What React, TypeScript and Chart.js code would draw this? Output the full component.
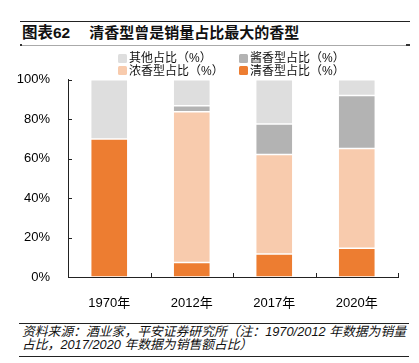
import React, { useEffect, useRef } from "react";
import { Chart, registerables } from "chart.js";

Chart.register(...registerables);

const categories = ["1970年", "2012年", "2017年", "2020年"];
const qingxiang = [70, 7.4, 11.6, 14.6];
const nongxiang = [0, 76.4, 50.5, 50.6];
const jiangxiang = [0, 3.1, 15.5, 26.9];
const others = [30, 13.1, 22.4, 7.9];
const yTicks = [0, 20, 40, 60, 80, 100];

const seriesNames = ["清香型占比（%）", "浓香型占比（%）", "酱香型占比（%）", "其他占比（%）"];
const seriesColors = ["#ED7D31", "#F8CBAD", "#B3B3B3", "#DEDEDE"];
const seriesData = [qingxiang, nongxiang, jiangxiang, others];

const FONT = "'Liberation Sans', Arial, 'Noto Sans CJK SC', sans-serif";

const innerTicks = {
  id: "innerTicks",
  afterDraw(chart: any) {
    const { ctx, chartArea, scales } = chart;
    ctx.save();
    ctx.strokeStyle = "#222";
    ctx.lineWidth = 1;
    ctx.beginPath();
    yTicks.forEach((v) => {
      const y = Math.round(scales.y.getPixelForValue(v)) + 0.5;
      ctx.moveTo(chartArea.left, y);
      ctx.lineTo(chartArea.left + 4, y);
    });
    const n = categories.length;
    for (let i = 1; i <= n; i++) {
      const x = Math.round(chartArea.left + ((chartArea.right - chartArea.left) * i) / n) + 0.5;
      ctx.moveTo(x, chartArea.bottom);
      ctx.lineTo(x, chartArea.bottom - 4);
    }
    ctx.stroke();
    ctx.restore();
  },
};

export default function App() {
  const ref = useRef<HTMLCanvasElement | null>(null);

  useEffect(() => {
    if (!ref.current) return;
    const chart = new Chart(ref.current, {
      type: "bar",
      data: {
        labels: categories,
        datasets: seriesData.map((d, i) => ({
          label: seriesNames[i],
          data: d,
          backgroundColor: seriesColors[i],
          borderColor: "#ffffff",
          borderWidth: 0.75,
          borderSkipped: false,
          categoryPercentage: 1,
          barPercentage: 0.45,
        })),
      },
      options: {
        responsive: false,
        animation: false,
        layout: { padding: { top: 2, right: 21, left: 0, bottom: 0 } },
        plugins: { legend: { display: false }, tooltip: { enabled: false }, title: { display: false } },
        scales: {
          x: {
            stacked: true,
            grid: { display: false },
            border: { display: true, color: "#222", width: 1 },
            ticks: { color: "#000", font: { family: FONT, size: 13 }, padding: 11 },
            afterFit: (s: any) => {
              s.height = 33;
            },
          },
          y: {
            stacked: true,
            min: 0,
            max: 100,
            grid: { display: false },
            border: { display: true, color: "#222", width: 1 },
            ticks: {
              stepSize: 20,
              color: "#000",
              font: { family: FONT, size: 13 },
              padding: 10,
              callback: (v: any) => v + "%",
            },
            afterFit: (s: any) => {
              s.width = 68;
            },
          },
        },
      },
      plugins: [innerTicks],
    });
    return () => chart.destroy();
  }, []);

  const legendOrder = [3, 2, 1, 0];

  return (
    <div
      style={{
        position: "absolute",
        left: 0,
        top: 0,
        width: 419,
        height: 363,
        background: "#fff",
        fontFamily: FONT,
        overflow: "hidden",
      }}
    >
      <div style={{ position: "absolute", left: 20, top: 21, width: 390, height: 0, borderTop: "1.5px solid #222" }} />
      <div
        style={{
          position: "absolute",
          left: 22,
          top: 24,
          fontSize: 15,
          fontWeight: "bold",
          lineHeight: "18px",
          color: "#111",
          whiteSpace: "nowrap",
        }}
      >
        <span style={{ fontSize: 15.5 }}>图表62</span>
        <span style={{ marginLeft: 19 }}>清香型曾是销量占比最大的香型</span>
      </div>
      <div style={{ position: "absolute", left: 20, top: 45, width: 390, height: 0, borderTop: "1px solid #aaa" }} />
      <div style={{ position: "absolute", left: 20, top: 44, width: 2, height: 2, background: "#333" }} />
      <div style={{ position: "absolute", left: 406, top: 44, width: 4, height: 2, background: "#333" }} />

      <canvas
        ref={ref}
        width={419}
        height={248}
        style={{ position: "absolute", left: 0, top: 62, width: 419, height: 248 }}
      />

      {legendOrder.map((si, k) => {
        const col = k % 2;
        const row = Math.floor(k / 2);
        return (
          <div
            key={si}
            style={{
              position: "absolute",
              left: col === 0 ? 118 : 239,
              top: 51 + row * 12.5,
              display: "flex",
              alignItems: "center",
              fontSize: 12,
              lineHeight: "14px",
              color: "#111",
              whiteSpace: "nowrap",
            }}
          >
            <span
              style={{
                display: "inline-block",
                width: 9,
                height: 9,
                borderRadius: 1.5,
                background: seriesColors[si],
                marginRight: 2,
              }}
            />
            <span>{seriesNames[si]}</span>
          </div>
        );
      })}

      <div style={{ position: "absolute", left: 19, top: 323, width: 390, height: 0, borderTop: "1.5px solid #222" }} />
      <div
        style={{
          position: "absolute",
          left: 22,
          top: 326,
          fontSize: 12.8,
          lineHeight: "12.5px",
          fontStyle: "italic",
          color: "#111",
          whiteSpace: "nowrap",
        }}
      >
        <div>资料来源：酒业家，平安证券研究所（注：1970/2012 年数据为销量</div>
        <div>占比，2017/2020 年数据为销售额占比）</div>
      </div>
      <div style={{ position: "absolute", left: 19, top: 356, width: 390, height: 0, borderTop: "1.5px solid #222" }} />
    </div>
  );
}
